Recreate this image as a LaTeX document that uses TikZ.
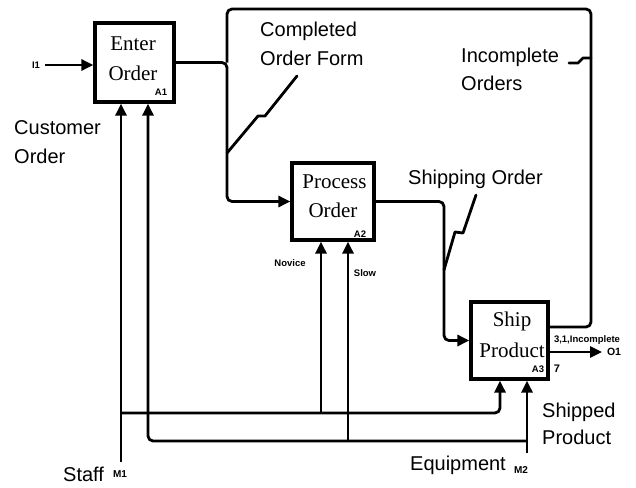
\documentclass[tikz,border=0pt]{standalone}
\usepackage{fontspec}
\setmainfont{Liberation Serif}
\newfontfamily\labfont{Liberation Sans}
\usetikzlibrary{arrows.meta}
\begin{document}
\begin{tikzpicture}[x=1pt,y=-1pt,
  actbox/.style={draw, line width=3.2pt, inner sep=0pt},
  boxtext/.style={font=\fontsize{21}{29}\selectfont, anchor=base, inner sep=0pt},
  lab/.style={font=\labfont\fontsize{20}{28}\selectfont, anchor=base west, inner sep=0pt},
  tiny/.style={font=\labfont\bfseries\fontsize{9.5}{11}\selectfont, inner sep=0pt},
  conn/.style={line width=2.8pt, line join=round, rounded corners=5pt},
  arr/.style={conn, -{Triangle[length=12pt,width=11pt]}},
  lead/.style={line width=2.8pt, line join=round, line cap=round}]
\useasboundingbox (0,0) rectangle (636,487);
% activity boxes
\node[actbox, minimum width=79pt, minimum height=79pt] (A1) at (134.5,62.5) {};
\node[actbox, minimum width=82pt, minimum height=77pt] (A2) at (333,201.5) {};
\node[actbox, minimum width=77pt, minimum height=77pt] (A3) at (509.5,340.5) {};
\node[boxtext] (t1a) at (133,50) {Enter};
\node[boxtext] (t1b) at (133,80) {Order};
\node[boxtext] (t2a) at (334.5,188) {Process};
\node[boxtext] (t2b) at (333,217) {Order};
\node[boxtext] (t3a) at (512,326) {Ship};
\node[boxtext] (t3b) at (512,357) {Product};
\node[tiny] (n1) at (161,92) {A1};
\node[tiny] (n2) at (360,234) {A2};
\node[tiny] (n3) at (538,369) {A3};
% coordinates
\coordinate (i1) at (45,65);
\coordinate (c1) at (227,62.5);
\coordinate (ja) at (227,201.5);
\coordinate (lr) at (591,9);
\coordinate (jb) at (444,340.5);
\coordinate (o1) at (602,352);
\coordinate (m1) at (121,462);
\coordinate (s1) at (121,413);
\coordinate (s2) at (321,413);
\coordinate (m2) at (527,453);
\coordinate (e1) at (527,441);
\coordinate (e2) at (348,441);
% inputs / outputs
\draw[arr] (i1) -- ([yshift=-2.5pt]A1.west);
\draw[arr] (A1.east) -| (ja) -- (A2.west);
\draw[conn] ([yshift=13.5pt]A3.east) -| (lr) -| (c1);
\draw[arr] (A2.east) -| (jb) -- (A3.west);
\draw[arr] ([yshift=-11.5pt]A3.east) -- (o1);
% mechanisms
\draw[arr] (m1) -- ([xshift=-13.5pt]A1.south);
\draw[arr] (s1) -| ([xshift=-9.5pt]A3.south);
\draw[arr] (s2) -- ([xshift=-12pt]A2.south);
\draw[arr] (m2) -- ([xshift=17.5pt]A3.south);
\draw[arr] (e1) -| ([xshift=13.5pt]A1.south);
\draw[arr] (e2) -- ([xshift=15pt]A2.south);
% leader squiggles
\draw[lead] (297,76) -- (265,116) -- (258,116) -- (227,153);
\draw[lead] (569,63) -- (578,63) -- (583,58) -- (591,58);
\draw[lead] (476,195) -- (463,233) -- (455,232) -- (444,270);
% labels
\node[lab] (l1) at (14,134) {Customer};
\node[lab] (l2) at (14,163) {Order};
\node[lab] (l3) at (260,37) {Completed};
\node[lab] (l4) at (260,65) {Order Form};
\node[lab] (l5) at (461,63) {Incomplete};
\node[lab] (l6) at (461,90) {Orders};
\node[lab] (l7) at (408,184) {Shipping Order};
\node[lab] (l8) at (542,417) {Shipped};
\node[lab] (l9) at (542,444) {Product};
\node[lab] (l10) at (410,470) {Equipment};
\node[lab] (l11) at (63,481) {Staff};
\node[tiny] (k1) at (36,65) {I1};
\node[tiny] (k2) at (290,263) {Novice};
\node[tiny] (k3) at (365,273) {Slow};
\node[tiny] (k4) at (587,340) {3,1,Incomplete};
\node[tiny, font=\labfont\bfseries\fontsize{11}{12}\selectfont] (k5) at (557,369) {7};
\node[tiny, font=\labfont\bfseries\fontsize{10.5}{12}\selectfont] (k6) at (614,352) {O1};
\node[tiny, font=\labfont\bfseries\fontsize{10}{12}\selectfont] (k7) at (120,474) {M1};
\node[tiny, font=\labfont\bfseries\fontsize{10}{12}\selectfont] (k8) at (521,470) {M2};
\end{tikzpicture}
\end{document}
